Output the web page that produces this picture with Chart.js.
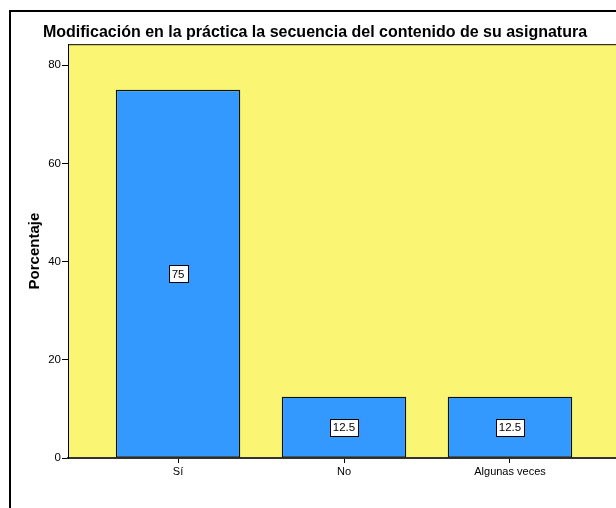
<!DOCTYPE html>
<html>
<head>
<meta charset="utf-8">
<script src="https://cdn.jsdelivr.net/npm/chart.js@4"></script>
<style>
  html, body { margin: 0; padding: 0; background: #fff; }
  #wrap { width: 616px; height: 508px; overflow: hidden; position: relative; }
  canvas { display: block; }
</style>
</head>
<body>
<div id="wrap"><canvas id="c" width="640" height="508"></canvas></div>
<script>
const titleText = "Modificación en la práctica la secuencia del contenido de su asignatura";
const categories = ["Sí", "No", "Algunas veces"];
const percentages = [75, 12.5, 12.5];
const yTicks = [0, 20, 40, 60, 80];
const yAxisTitle = "Porcentaje";

const FONT = "'Liberation Sans', Arial, sans-serif";

const framePlugin = {
  id: 'frame',
  beforeDraw(chart) {
    const ctx = chart.ctx;
    const a = chart.chartArea;
    ctx.save();
    ctx.fillStyle = '#fff';
    ctx.fillRect(0, 0, chart.width, chart.height);
    ctx.strokeStyle = '#000';
    ctx.lineWidth = 2;
    ctx.strokeRect(10, 11, chart.width - 20, chart.height + 20);
    ctx.fillStyle = '#faf673';
    ctx.fillRect(a.left, a.top, a.right - a.left, a.bottom - a.top);
    ctx.strokeStyle = '#000';
    ctx.lineWidth = 1;
    ctx.beginPath();
    ctx.moveTo(a.left, a.top + 0.5);
    ctx.lineTo(a.right, a.top + 0.5);
    ctx.moveTo(a.right - 0.5, a.top);
    ctx.lineTo(a.right - 0.5, a.bottom);
    ctx.stroke();
    ctx.restore();
  }
};

const labelPlugin = {
  id: 'barLabels',
  afterDatasetsDraw(chart) {
    const ctx = chart.ctx;
    const meta = chart.getDatasetMeta(0);
    ctx.save();
    ctx.font = "11.5px " + FONT;
    ctx.textAlign = 'center';
    ctx.textBaseline = 'middle';
    meta.data.forEach((bar, i) => {
      const v = percentages[i];
      const txt = String(v);
      const cx = bar.x;
      const cy = (bar.y + bar.base) / 2;
      const w = Math.round(ctx.measureText(txt).width + 6);
      const h = 17;
      const x0 = Math.round(cx - w / 2) + 0.5;
      const y0 = Math.round(cy - h / 2) + 0.5;
      ctx.fillStyle = '#fff';
      ctx.fillRect(x0, y0, w, h);
      ctx.strokeStyle = '#000';
      ctx.lineWidth = 1;
      ctx.strokeRect(x0, y0, w, h);
      ctx.fillStyle = '#000';
      ctx.fillText(txt, cx, cy + 1);
    });
    ctx.restore();
  }
};

new Chart(document.getElementById('c'), {
  type: 'bar',
  data: {
    datasets: [{
      data: categories.map((c, i) => ({ x: i, y: percentages[i] })),
      backgroundColor: '#3399ff',
      borderColor: '#111',
      borderWidth: 1.3,
      borderSkipped: false,
      barPercentage: 0.75,
      categoryPercentage: 1
    }]
  },
  options: {
    responsive: false,
    animation: false,
    layout: { padding: { left: 0, right: 10, top: 0, bottom: 0 } },
    plugins: {
      legend: { display: false },
      tooltip: { enabled: false },
      title: {
        display: true,
        text: titleText,
        color: '#000',
        font: { family: FONT, size: 16, weight: 'bold' },
        padding: { top: 23, bottom: 2 }
      }
    },
    scales: {
      x: {
        type: 'linear',
        offset: false,
        min: -0.663,
        max: 2.723,
        afterBuildTicks(scale) {
          scale.ticks = categories.map((c, i) => ({ value: i }));
        },
        afterFit(scale) { scale.height = 50; },
        ticks: {
          color: '#000',
          font: { family: FONT, size: 11 },
          padding: 2,
          maxRotation: 0,
          autoSkip: false,
          callback: (v) => categories[v] ?? ''
        },
        grid: { display: true, offset: false, drawOnChartArea: false, drawTicks: true, tickLength: 5, color: '#000' },
        border: { display: true, color: '#333', width: 2 }
      },
      y: {
        min: 0,
        max: 84.3,
        afterBuildTicks(scale) {
          scale.ticks = yTicks.map(v => ({ value: v }));
        },
        afterFit(scale) { scale.width = 68; },
        ticks: {
          color: '#000',
          font: { family: FONT, size: 11.5 },
          padding: 1
        },
        grid: { display: true, drawOnChartArea: false, drawTicks: true, tickLength: 6, color: '#000' },
        border: { display: true, color: '#000', width: 1 },
        title: {
          display: true,
          text: yAxisTitle,
          color: '#000',
          font: { family: FONT, size: 15, weight: 'bold' },
          padding: { top: 26, bottom: 0 }
        }
      }
    }
  },
  plugins: [framePlugin, labelPlugin]
});
</script>
</body>
</html>
